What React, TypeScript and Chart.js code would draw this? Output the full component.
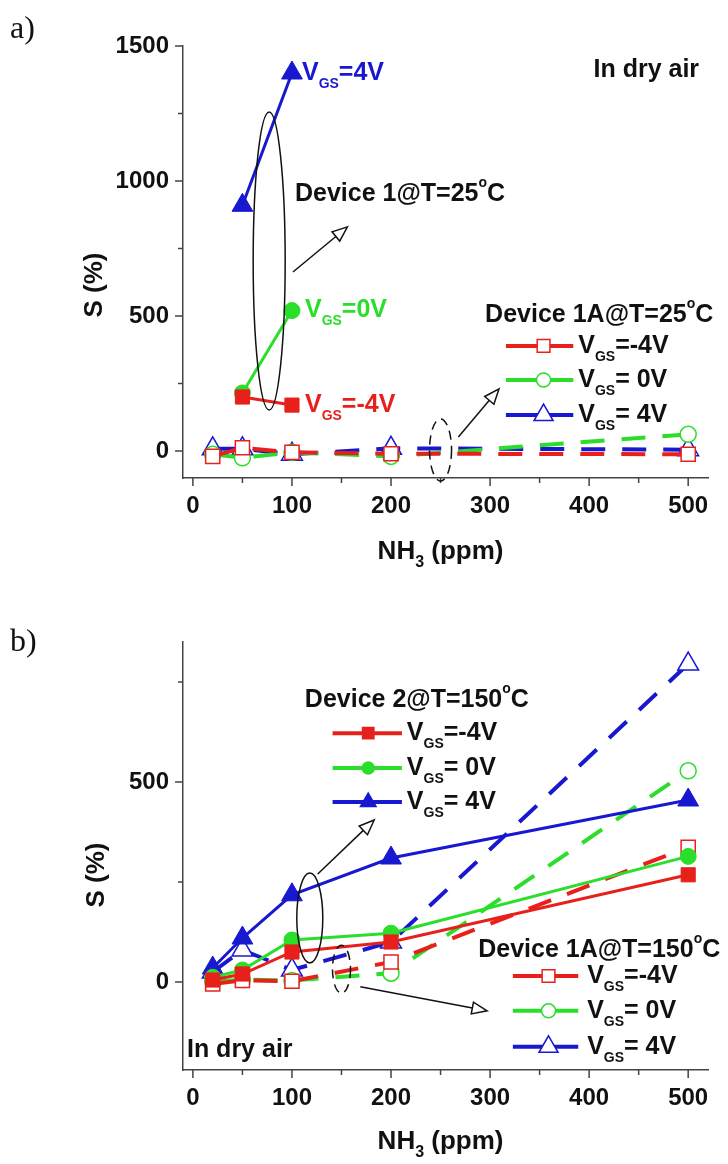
import React, { useEffect, useRef } from 'react';
import { Chart, registerables } from 'chart.js';
Chart.register(...registerables);

const RED = '#e8201c';
const GREEN = '#2ade2a';
const BLUE = '#1818d0';
const FONT = '"Liberation Sans", Arial, sans-serif';

// ---------- Panel a data ----------
const xDev1A = [50, 100];
const aDev1_m4 = [200, 170];
const aDev1_0 = [215, 520];
const aDev1_p4 = [910, 1400];
const xDev1AA = [20, 50, 100, 200, 500];
const aDev1A_m4 = [-20, 12, -5, -10, -12];
const aDev1A_0 = [-12, -25, -5, -20, 62];
const aDev1A_p4 = [8, 8, -12, 10, 5];

// ---------- Panel b data ----------
const xB = [20, 50, 100, 200, 500];
const bDev2_m4 = [5, 20, 75, 100, 268];
const bDev2_0 = [12, 30, 105, 122, 314];
const bDev2_p4 = [35, 110, 218, 310, 455];
const bDev1A_m4 = [-5, 4, 2, 50, 337];
const bDev1A_0 = [0, 6, 4, 22, 528];
const bDev1A_p4 = [25, 80, 30, 100, 795];

const xTickVals = [0, 100, 200, 300, 400, 500];
const xMinorVals = [50, 150, 250, 350, 450];
const yTicksA = [0, 500, 1000, 1500];
const yMinorA = [250, 750, 1250];
const yTicksB = [0, 500];
const yMinorB = [250, 750];

type Seg = { t: string; s?: number; dy?: number };

function drawRich(ctx: CanvasRenderingContext2D, x: number, y: number, segs: Seg[], color: string, base: number, align = 'left') {
  ctx.save();
  ctx.fillStyle = color;
  ctx.textBaseline = 'middle';
  let total = 0;
  const ws: number[] = [];
  for (const sg of segs) {
    ctx.font = `bold ${sg.s ?? base}px ${FONT}`;
    const w = ctx.measureText(sg.t).width;
    ws.push(w);
    total += w;
  }
  let cx = align === 'right' ? x - total : align === 'center' ? x - total / 2 : x;
  segs.forEach((sg, i) => {
    ctx.font = `bold ${sg.s ?? base}px ${FONT}`;
    ctx.fillText(sg.t, cx, y + (sg.dy ?? 0));
    cx += ws[i];
  });
  ctx.restore();
}

const vgs = (rest: string): Seg[] => [{ t: 'V' }, { t: 'GS', s: 14, dy: 11 }, { t: rest }];
const deg = (pre: string): Seg[] => [{ t: pre }, { t: 'o', s: 14, dy: -11 }, { t: 'C' }];

function drawMarker(ctx: CanvasRenderingContext2D, style: string, x: number, y: number, r: number, color: string, filled: boolean) {
  ctx.save();
  ctx.beginPath();
  if (style === 'rect') {
    const s = Math.SQRT1_2 * r;
    ctx.rect(x - s, y - s, 2 * s, 2 * s);
  } else if (style === 'circle') {
    ctx.arc(x, y, r, 0, Math.PI * 2);
  } else {
    ctx.moveTo(x, y - r);
    ctx.lineTo(x + 0.866 * r, y + r / 2);
    ctx.lineTo(x - 0.866 * r, y + r / 2);
    ctx.closePath();
  }
  ctx.fillStyle = filled ? color : '#ffffff';
  ctx.fill();
  ctx.lineWidth = 1.5;
  ctx.strokeStyle = color;
  ctx.stroke();
  ctx.restore();
}

function drawArrow(ctx: CanvasRenderingContext2D, x1: number, y1: number, x2: number, y2: number) {
  const a = Math.atan2(y2 - y1, x2 - x1);
  const L = 15, W = 6;
  const bx = x2 - Math.cos(a) * L, by = y2 - Math.sin(a) * L;
  ctx.save();
  ctx.strokeStyle = '#111';
  ctx.lineWidth = 1.5;
  ctx.beginPath();
  ctx.moveTo(x1, y1);
  ctx.lineTo(bx, by);
  ctx.stroke();
  ctx.beginPath();
  ctx.moveTo(x2, y2);
  ctx.lineTo(bx + Math.sin(a) * W, by - Math.cos(a) * W);
  ctx.lineTo(bx - Math.sin(a) * W, by + Math.cos(a) * W);
  ctx.closePath();
  ctx.fillStyle = '#fff';
  ctx.fill();
  ctx.stroke();
  ctx.restore();
}

function drawEllipse(ctx: CanvasRenderingContext2D, cx: number, cy: number, rx: number, ry: number, dashed: boolean) {
  ctx.save();
  ctx.strokeStyle = '#111';
  ctx.lineWidth = 1.5;
  if (dashed) ctx.setLineDash([9, 6]);
  ctx.beginPath();
  ctx.ellipse(cx, cy, rx, ry, 0, 0, Math.PI * 2);
  ctx.stroke();
  ctx.restore();
}

type LegendRow = { y: number; color: string; style: string; r: number; filled: boolean; label: string };
type Annot = {
  letter: string; letterY: number;
  titleY: number; titleX: number; nh3Y: number;
  yMajor: number[]; yMinor: number[];
  texts: { x: number; y: number; segs: Seg[]; color: string; align?: string; dx?: number }[];
  arrows: number[][];
  ellipses: { x: number; y: number; rx: number; ry: number; dashed: boolean }[];
  legends: { x0: number; x1: number; xm: number; xt: number; rows: LegendRow[] }[];
};

const annotPlugin = {
  id: 'annotDraw',
  afterDatasetsDraw(chart: any) {
    const a: Annot = chart.options.plugins.annotDraw;
    const ctx: CanvasRenderingContext2D = chart.ctx;
    const xs = chart.scales.x, ys = chart.scales.y;
    const px = (v: number) => xs.getPixelForValue(v);
    const py = (v: number) => ys.getPixelForValue(v);
    const area = chart.chartArea;

    // tick marks (outward)
    ctx.save();
    ctx.strokeStyle = '#444';
    ctx.lineWidth = 1.5;
    ctx.beginPath();
    xTickVals.forEach(v => { ctx.moveTo(px(v), area.bottom); ctx.lineTo(px(v), area.bottom + 8); });
    xMinorVals.forEach(v => { ctx.moveTo(px(v), area.bottom); ctx.lineTo(px(v), area.bottom + 5); });
    a.yMajor.forEach(v => { ctx.moveTo(area.left, py(v)); ctx.lineTo(area.left - 8, py(v)); });
    a.yMinor.forEach(v => { ctx.moveTo(area.left, py(v)); ctx.lineTo(area.left - 5, py(v)); });
    ctx.stroke();
    ctx.restore();

    a.ellipses.forEach(e => drawEllipse(ctx, px(e.x), py(e.y), e.rx, e.ry, e.dashed));
    a.arrows.forEach(ar => drawArrow(ctx, px(ar[0]), py(ar[1]), px(ar[2]), py(ar[3])));
    a.texts.forEach(t => drawRich(ctx, px(t.x) + (t.dx ?? 0), py(t.y), t.segs, t.color, 25, t.align ?? 'left'));
    a.legends.forEach(lg => {
      lg.rows.forEach(r => {
        ctx.save();
        ctx.strokeStyle = r.color;
        ctx.lineWidth = 4;
        ctx.beginPath();
        ctx.moveTo(px(lg.x0), py(r.y));
        ctx.lineTo(px(lg.x1), py(r.y));
        ctx.stroke();
        ctx.restore();
        drawMarker(ctx, r.style, px(lg.xm), py(r.y), r.r, r.color, r.filled);
        drawRich(ctx, px(lg.xt), py(r.y), vgs(r.label), '#111', 25);
      });
    });

    // panel letter
    ctx.save();
    ctx.fillStyle = '#111';
    ctx.font = `32px "Liberation Serif", "DejaVu Serif", serif`;
    ctx.textBaseline = 'middle';
    ctx.fillText(a.letter, 10, a.letterY);
    ctx.restore();

    // y title
    ctx.save();
    ctx.translate(a.titleX, a.titleY);
    ctx.rotate(-Math.PI / 2);
    ctx.fillStyle = '#111';
    ctx.font = `bold 26px ${FONT}`;
    ctx.textAlign = 'center';
    ctx.textBaseline = 'middle';
    ctx.fillText('S (%)', 0, 0);
    ctx.restore();

    // x title
    drawRich(ctx, (px(0) + px(500)) / 2, a.nh3Y, [{ t: 'NH' }, { t: '3', s: 16, dy: 11 }, { t: ' (ppm)' }], '#111', 26, 'center');
  },
};

const pts = (xs: number[], ys: number[]) => xs.map((x, i) => ({ x, y: ys[i] }));

function solidDs(label: string, xs: number[], ys: number[], color: string, style: string, r: number) {
  return {
    label, data: pts(xs, ys), borderColor: color, borderWidth: 3,
    pointStyle: style, pointRadius: r, pointBackgroundColor: color, pointBorderColor: color,
    pointBorderWidth: 1, order: 0,
  };
}
function dashDs(label: string, xs: number[], ys: number[], color: string, style: string, r: number) {
  return {
    label, data: pts(xs, ys), borderColor: color, borderWidth: 4, borderDash: [24, 17],
    pointStyle: style, pointRadius: r, pointBackgroundColor: '#ffffff', pointBorderColor: color,
    pointBorderWidth: 1.5, order: 1,
  };
}

function Panel({ datasets, yMin, yMax, yTicks, padTop, xAxisH, annot }: any) {
  const ref = useRef<HTMLCanvasElement>(null);
  useEffect(() => {
    const chart = new Chart(ref.current!, {
      type: 'line',
      data: { datasets },
      options: {
        animation: false,
        responsive: false,
        layout: { padding: { left: 0, right: 20, top: padTop, bottom: 0 } },
        plugins: { legend: { display: false }, tooltip: { enabled: false }, annotDraw: annot } as any,
        scales: {
          x: {
            type: 'linear', min: -10, max: 520,
            grid: { display: false, drawTicks: false },
            border: { display: true, color: '#444', width: 1.5 },
            ticks: { font: { size: 24, weight: 'bold', family: FONT }, color: '#111', padding: 14, callback: (v: any) => String(v) },
            afterBuildTicks: (s: any) => { s.ticks = xTickVals.map(v => ({ value: v })); },
            afterFit: (s: any) => { s.height = xAxisH; },
          },
          y: {
            type: 'linear', min: yMin, max: yMax,
            grid: { display: false, drawTicks: false },
            border: { display: true, color: '#444', width: 1.5 },
            ticks: { font: { size: 24, weight: 'bold', family: FONT }, color: '#111', padding: 14, callback: (v: any) => String(v) },
            afterBuildTicks: (s: any) => { s.ticks = yTicks.map((v: number) => ({ value: v })); },
            afterFit: (s: any) => { s.width = 183; },
          },
        },
      } as any,
      plugins: [annotPlugin],
    });
    return () => chart.destroy();
  }, []);
  return <canvas ref={ref} width={728} height={582} style={{ display: 'block', width: 728, height: 582 }} />;
}

const annotA: Annot = {
  letter: 'a)', letterY: 30, titleX: 95, titleY: 285, nh3Y: 552,
  yMajor: yTicksA, yMinor: yMinorA,
  texts: [
    { x: 511, y: 1411, segs: [{ t: 'In dry air' }], color: '#111', align: 'right' },
    { x: 100, y: 1400, segs: vgs('=4V'), color: BLUE, dx: 10 },
    { x: 100, y: 520, segs: vgs('=0V'), color: GREEN, dx: 13 },
    { x: 100, y: 170, segs: vgs('=-4V'), color: RED, dx: 13 },
    { x: 103, y: 952, segs: deg('Device 1@T=25'), color: '#111' },
    { x: 295, y: 504, segs: deg('Device 1A@T=25'), color: '#111' },
  ],
  arrows: [[101, 663, 156, 830], [268, 52, 309, 230]],
  ellipses: [
    { x: 77, y: 704, rx: 16, ry: 149, dashed: false },
    { x: 250, y: 4, rx: 11, ry: 31, dashed: true },
  ],
  legends: [{
    x0: 316, x1: 384, xm: 354, xt: 389, rows: [
      { y: 389, color: RED, style: 'rect', r: 9, filled: false, label: '=-4V' },
      { y: 263, color: GREEN, style: 'circle', r: 7, filled: false, label: '= 0V' },
      { y: 133, color: BLUE, style: 'triangle', r: 11, filled: false, label: '= 4V' },
    ],
  }],
};

const annotB: Annot = {
  letter: 'b)', letterY: 61, titleX: 97, titleY: 293, nh3Y: 560,
  yMajor: yTicksB, yMinor: yMinorB,
  texts: [
    { x: 113, y: 705, segs: deg('Device 2@T=150'), color: '#111' },
    { x: 288, y: 80, segs: deg('Device 1A@T=150'), color: '#111' },
    { x: -6, y: -170, segs: [{ t: 'In dry air' }], color: '#111' },
  ],
  arrows: [[126, 270, 183, 405], [169, -12, 297, -72]],
  ellipses: [
    { x: 118, y: 160, rx: 13, ry: 45, dashed: false },
    { x: 150, y: 32, rx: 9, ry: 24, dashed: true },
  ],
  legends: [
    {
      x0: 141, x1: 211, xm: 177, xt: 216, rows: [
        { y: 622, color: RED, style: 'rect', r: 8, filled: true, label: '=-4V' },
        { y: 535, color: GREEN, style: 'circle', r: 6, filled: true, label: '= 0V' },
        { y: 450, color: BLUE, style: 'triangle', r: 9, filled: true, label: '= 4V' },
      ],
    },
    {
      x0: 323, x1: 389, xm: 359, xt: 398, rows: [
        { y: 15, color: RED, style: 'rect', r: 9, filled: false, label: '=-4V' },
        { y: -72, color: GREEN, style: 'circle', r: 7, filled: false, label: '= 0V' },
        { y: -162, color: BLUE, style: 'triangle', r: 11, filled: false, label: '= 4V' },
      ],
    },
  ],
};

export default function App() {
  const dsA = [
    solidDs('Dev1 -4V', xDev1A, aDev1_m4, RED, 'rect', 10),
    solidDs('Dev1 0V', xDev1A, aDev1_0, GREEN, 'circle', 8),
    solidDs('Dev1 4V', xDev1A, aDev1_p4, BLUE, 'triangle', 12),
    dashDs('Dev1A -4V', xDev1AA, aDev1A_m4, RED, 'rect', 10),
    dashDs('Dev1A 0V', xDev1AA, aDev1A_0, GREEN, 'circle', 8),
    dashDs('Dev1A 4V', xDev1AA, aDev1A_p4, BLUE, 'triangle', 12),
  ];
  const dsB = [
    solidDs('Dev2 -4V', xB, bDev2_m4, RED, 'rect', 10),
    solidDs('Dev2 0V', xB, bDev2_0, GREEN, 'circle', 8),
    solidDs('Dev2 4V', xB, bDev2_p4, BLUE, 'triangle', 12),
    dashDs('Dev1A -4V', xB, bDev1A_m4, RED, 'rect', 10),
    dashDs('Dev1A 0V', xB, bDev1A_0, GREEN, 'circle', 8),
    dashDs('Dev1A 4V', xB, bDev1A_p4, BLUE, 'triangle', 12),
  ];
  return (
    <div style={{ position: 'absolute', left: 0, top: 0, width: 728, height: 1164, background: '#fff' }}>
      <Panel datasets={dsA} yMin={-100} yMax={1500} yTicks={yTicksA} padTop={46} xAxisH={104} annot={annotA} />
      <Panel datasets={dsB} yMin={-220} yMax={850} yTicks={yTicksB} padTop={60} xAxisH={94} annot={annotB} />
    </div>
  );
}
